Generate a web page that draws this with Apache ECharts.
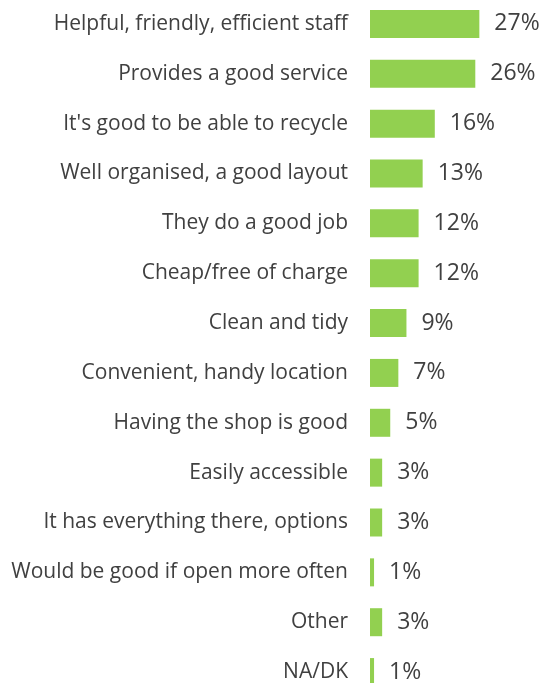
<!DOCTYPE html>
<html>
<head>
<meta charset="utf-8">
<script src="https://cdn.jsdelivr.net/npm/echarts@6/dist/echarts.min.js"></script>
<style>
  html, body { margin: 0; padding: 0; background: #fff; }
  #chart { width: 545px; height: 683px; }
</style>
</head>
<body>
<div id="chart"></div>
<script>
// Reasons people like the site, share of responses (%)
const categories = [
  'Helpful, friendly, efficient staff',
  'Provides a good service',
  "It's good to be able to recycle",
  'Well organised, a good layout',
  'They do a good job',
  'Cheap/free of charge',
  'Clean and tidy',
  'Convenient, handy location',
  'Having the shop is good',
  'Easily accessible',
  'It has everything there, options',
  'Would be good if open more often',
  'Other',
  'NA/DK'
];
const values = [27, 26, 16, 13, 12, 12, 9, 7, 5, 3, 3, 1, 3, 1];

const chart = echarts.init(document.getElementById('chart'), null, { renderer: 'canvas' });
chart.setOption({
  animation: false,
  grid: {
    left: 370, width: 162, top: -1, height: 698,
    containLabel: false,
    outerBoundsMode: 'none'
  },
  xAxis: {
    type: 'value', min: 0, max: 40,
    show: false
  },
  yAxis: {
    type: 'category',
    data: categories,
    inverse: true,
    axisLine: { show: false },
    axisTick: { show: false },
    axisLabel: {
      margin: 22,
      fontFamily: 'Open Sans',
      fontSize: 21,
      color: '#404040'
    }
  },
  series: [{
    type: 'bar',
    data: values,
    barWidth: 28,
    itemStyle: { color: '#92D050' },
    label: {
      show: true,
      position: 'right',
      distance: 15,
      formatter: p => p.value + '%',
      fontFamily: 'Open Sans',
      fontSize: 23,
      color: '#404040'
    }
  }]
});
</script>
</body>
</html>
